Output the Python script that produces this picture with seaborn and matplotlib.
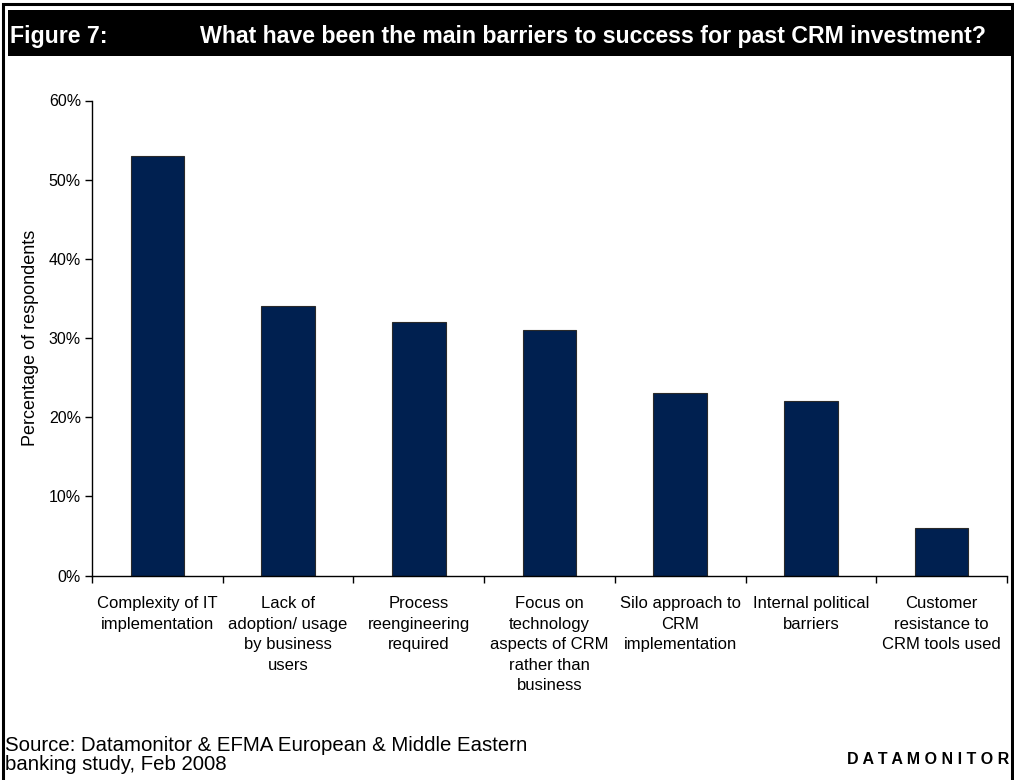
import matplotlib
matplotlib.use("Agg")
import matplotlib.pyplot as plt
from matplotlib.patches import Rectangle
from matplotlib.ticker import FuncFormatter, FixedLocator
import seaborn as sns
import pandas as pd

categories = [
    "Complexity of IT\nimplementation",
    "Lack of\nadoption/ usage\nby business\nusers",
    "Process\nreengineering\nrequired",
    "Focus on\ntechnology\naspects of CRM\nrather than\nbusiness",
    "Silo approach to\nCRM\nimplementation",
    "Internal political\nbarriers",
    "Customer\nresistance to\nCRM tools used",
]
values = [53, 34, 32, 31, 23, 22, 6]
y_ticks = [0, 10, 20, 30, 40, 50, 60]

title_label = "Figure 7:"
title_text = "What have been the main barriers to success for past CRM investment?"
y_label = "Percentage of respondents"
source_text = "Source: Datamonitor & EFMA European & Middle Eastern\nbanking study, Feb 2008"
brand_text = "D A T A M O N I T O R"

sns.set_theme(style="white")
plt.rcParams["font.family"] = ["Liberation Sans", "DejaVu Sans"]

W, H = 1014, 780
fig = plt.figure(figsize=(W / 100, H / 100), dpi=100)

def fx(px):
    return px / W

def fy(py):
    return 1 - py / H

ax = fig.add_axes([fx(92), fy(575.5), fx(1007) - fx(92), fy(100.5) - fy(575.5)])

df = pd.DataFrame({"category": categories, "value": values})
sns.barplot(data=df, x="category", y="value", color="#002050", saturation=1,
            width=0.41, edgecolor="#2a2a2a", linewidth=0.8, ax=ax)

ax.set_xlim(-0.5, len(categories) - 0.5)
ax.set_ylim(0, 60)
ax.yaxis.set_major_locator(FixedLocator(y_ticks))
ax.yaxis.set_major_formatter(FuncFormatter(lambda v, p: f"{int(v)}%"))
ax.xaxis.set_minor_locator(FixedLocator([i - 0.5 for i in range(len(categories) + 1)]))

for side in ("top", "right"):
    ax.spines[side].set_visible(False)
for side in ("left", "bottom"):
    ax.spines[side].set_color("black")
    ax.spines[side].set_linewidth(1.0)

ax.tick_params(axis="y", which="major", direction="out", length=5, width=1,
               color="black", labelsize=11.5, labelcolor="black", pad=3, left=True)
ax.tick_params(axis="x", which="major", length=0, labelsize=12,
               labelcolor="black", pad=15)
ax.tick_params(axis="x", which="minor", direction="out", length=5, width=1,
               color="black", bottom=True)
for lbl in ax.get_xticklabels():
    lbl.set_linespacing(1.45)
    lbl.set_ha("center")
    lbl.set_va("top")

ax.set_xlabel("")
ax.set_ylabel(y_label, fontsize=13, color="black", labelpad=7)

# black header band with the figure caption
fig.patches.append(Rectangle((fx(8), fy(56)), 1 - fx(8), fy(10) - fy(56),
                             transform=fig.transFigure, facecolor="black",
                             edgecolor="none", zorder=1))
fig.text(fx(10), fy(37), title_label, color="white", fontsize=16.7,
         fontweight="bold", ha="left", va="center", zorder=2)
fig.text(fx(200), fy(37), title_text, color="white", fontsize=16.7,
         fontweight="bold", ha="left", va="center", zorder=2)

# outer frame
fig.patches.append(Rectangle((fx(3), fy(782)), fx(1009), fy(4) - fy(782),
                             transform=fig.transFigure, facecolor="none",
                             edgecolor="black", linewidth=2.2, zorder=3))

fig.text(fx(5), fy(755), source_text, color="black", fontsize=14.7,
         ha="left", va="center", linespacing=1.0)
fig.text(fx(1009), fy(759), brand_text, color="black", fontsize=11.5,
         fontweight="bold", ha="right", va="center")

fig.savefig("out.png", dpi=100, facecolor="white")
